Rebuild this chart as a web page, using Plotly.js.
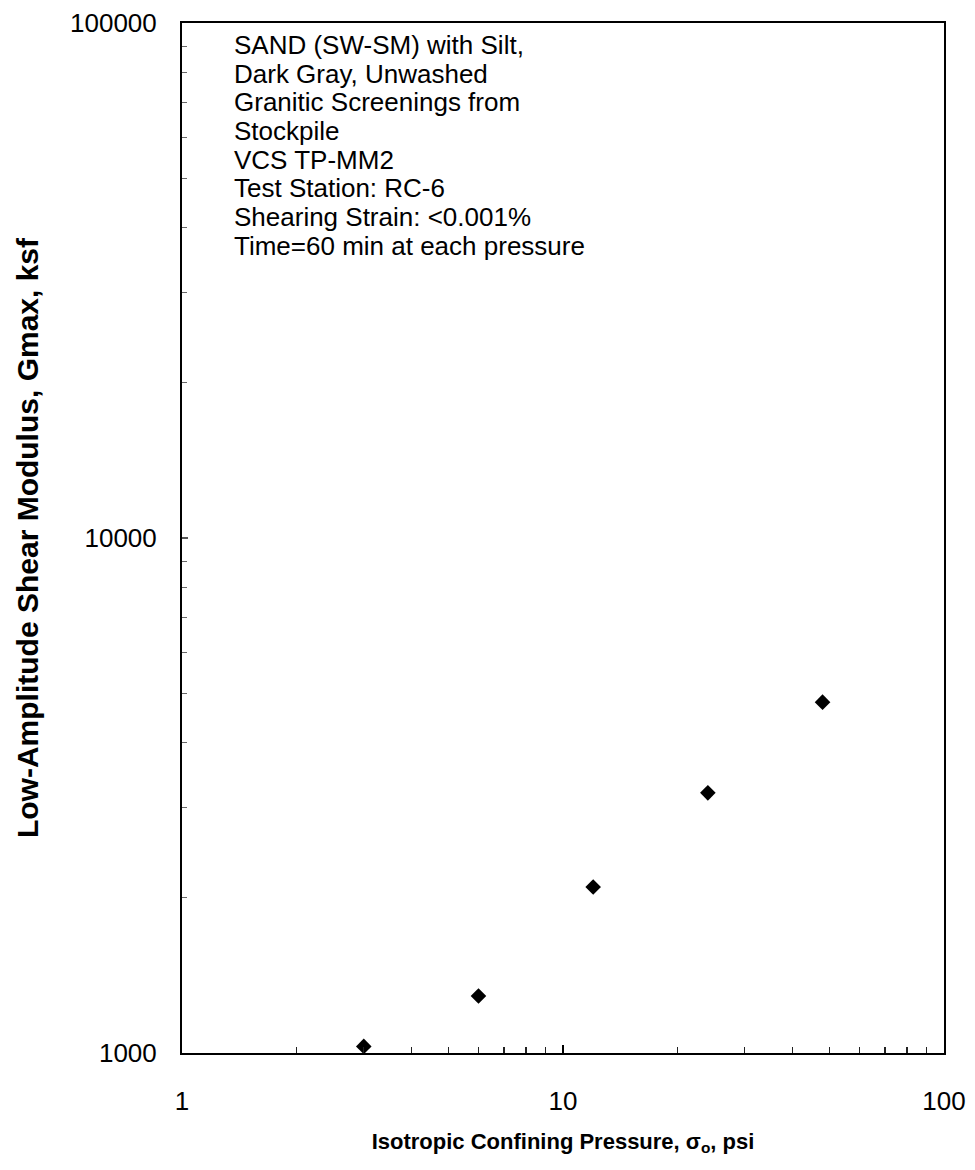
<!DOCTYPE html>
<html>
<head>
<meta charset="utf-8">
<script src="https://cdn.plot.ly/plotly-3.0.1.min.js"></script>
<style>
  html, body { margin: 0; padding: 0; background: #fff; }
  #chart { width: 975px; height: 1170px; }
</style>
</head>
<body>
<div id="chart"></div>
<script>
// Isotropic confining pressure (psi) and measured Gmax (ksf)
const pressurePsi = [3, 6, 12, 24, 48];
const gmaxKsf = [1030, 1290, 2100, 3200, 4800];

const xTickVals = [1, 10, 100];
const xTickText = ['1', '10', '100'];
const yTickVals = [1000, 10000, 100000];
const yTickText = ['1000', '10000', '100000'];

const sampleNotes = [
  'SAND (SW-SM) with Silt,',
  'Dark Gray, Unwashed',
  'Granitic Screenings from',
  'Stockpile',
  'VCS TP-MM2',
  'Test Station: RC-6',
  'Shearing Strain: <0.001%',
  'Time=60 min at each pressure'
];

const font = 'Arial, "Liberation Sans", sans-serif';

const W = 975, H = 1170;
const margin = { l: 182, r: 31, t: 23, b: 117 };
const plotH = H - margin.t - margin.b;

// Note block: one annotation per line, fixed line pitch in pixels
const noteTopPx = 45;      // centre of the first line, from top of page
const notePitchPx = 28.7;
const noteAnnotations = sampleNotes.map((line, i) => ({
  xref: 'paper', yref: 'paper',
  x: 0.0655,
  y: (H - margin.b - (noteTopPx + i * notePitchPx)) / plotH,
  xanchor: 'left', yanchor: 'middle',
  align: 'left',
  showarrow: false,
  text: line.replace(/</g, '&lt;'),
  font: { size: 26, family: font, color: '#000' }
}));

const trace = {
  x: pressurePsi,
  y: gmaxKsf,
  type: 'scatter',
  mode: 'markers',
  marker: { symbol: 'diamond', size: 12, color: '#000' },
  hoverinfo: 'x+y',
  showlegend: false
};

const layout = {
  width: W,
  height: H,
  margin: margin,
  paper_bgcolor: '#fff',
  plot_bgcolor: '#fff',
  font: { family: font, color: '#000' },
  xaxis: {
    type: 'log',
    range: [0, 2],
    tickvals: xTickVals,
    ticktext: xTickText,
    ticks: 'inside',
    ticklen: 8,
    tickwidth: 1.5,
    tickcolor: '#000',
    ticklabelstandoff: 24,
    tickfont: { size: 26, family: font },
    minor: { ticks: 'inside', ticklen: 6, tickwidth: 1.2, tickcolor: '#222', dtick: 'D1', showgrid: false },
    showgrid: false,
    zeroline: false,
    showline: true,
    linecolor: '#000',
    linewidth: 2,
    mirror: true,
    title: {
      text: '<b>Isotropic Confining Pressure, σ<sub>o</sub>, psi</b>',
      font: { size: 22, family: font },
      standoff: 18
    }
  },
  yaxis: {
    type: 'log',
    range: [3, 5],
    tickvals: yTickVals,
    ticktext: yTickText,
    ticks: 'inside',
    ticklen: 6,
    tickwidth: 1.2,
    tickcolor: '#555',
    ticklabelstandoff: 18,
    tickfont: { size: 26, family: font },
    minor: { ticks: 'inside', ticklen: 5, tickwidth: 1, tickcolor: '#666', dtick: 'D1', showgrid: false },
    showgrid: false,
    zeroline: false,
    showline: true,
    linecolor: '#000',
    linewidth: 2,
    mirror: true,
    title: {
      text: '<b>Low-Amplitude Shear Modulus, Gmax, ksf</b>',
      font: { size: 30, family: font },
      standoff: 23
    }
  },
  annotations: noteAnnotations
};

Plotly.newPlot('chart', [trace], layout, { displayModeBar: false, staticPlot: true });
</script>
</body>
</html>
